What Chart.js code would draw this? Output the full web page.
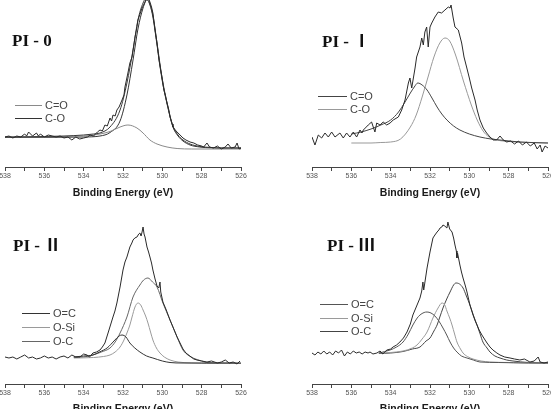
<!DOCTYPE html>
<html>
<head>
<meta charset="utf-8">
<script src="https://cdn.jsdelivr.net/npm/chart.js@4.4.1/dist/chart.umd.min.js"></script>
<style>
  html, body { margin: 0; padding: 0; background: #fff; overflow: hidden; width: 551px; height: 409px; }
  canvas { position: absolute; }
</style>
</head>
<body>
<canvas id="c0" width="275" height="205" style="left:0;top:0"></canvas>
<canvas id="c1" width="276" height="205" style="left:275px;top:0"></canvas>
<canvas id="c2" width="275" height="215" style="left:0;top:205px"></canvas>
<canvas id="c3" width="276" height="215" style="left:275px;top:205px"></canvas>
<script>
// binding energy axis
var evMin = 526, evMax = 538;
var axisTitle = 'Binding Energy (eV)';
var panelTitles = ['PI - 0', 'PI - \u2160', 'PI - \u2161', 'PI - \u2162'];

// ---- PI-0 : [eV, counts] ----
var pi0Exp = [[538.0,30],[537.8,31],[537.6,29],[537.4,31],[537.2,30],[537.0,33],[536.9,31],[536.8,35],[536.6,31],[536.4,34],[536.3,31],[536.2,33],[536.0,30],[535.8,32],[535.6,31],[535.4,30],[535.2,31],[535.0,29],[534.8,30],[534.6,27],[534.4,30],[534.2,28],[534.0,29],[533.8,30],[533.68,32],[533.5,31],[533.3,35],[533.17,37],[533.05,36],[532.92,42],[532.8,41],[532.66,49],[532.58,46],[532.51,52],[532.4,51],[532.31,57],[532.2,60],[532.05,67],[531.95,72],[531.9,80],[531.75,94],[531.65,104],[531.54,110],[531.45,122],[531.39,130],[531.3,139],[531.24,147],[531.1,155],[531.03,159],[530.88,165],[530.78,172],[530.63,165],[530.55,160],[530.48,154],[530.37,137],[530.27,124],[530.17,107],[530.1,99],[530.02,90],[529.92,77],[529.85,72],[529.76,64],[529.68,58],[529.61,50],[529.5,43],[529.46,40],[529.3,36],[529.2,34],[529.05,31],[528.95,29],[528.8,27],[528.59,25],[528.4,24],[528.2,22],[528.0,21],[527.9,20],[527.73,24],[527.6,20],[527.4,19],[527.2,21],[527.0,18],[526.8,20],[526.66,23],[526.5,19],[526.3,20],[526.2,24],[526.1,18],[526.0,19]];
var pi0Env = [[538,30],[536,30.5],[535,31],[534,32],[533.5,33],[533.17,34],[532.66,40],[532.15,57],[531.8,84],[531.49,117],[531.24,147],[530.98,164],[530.78,170],[530.63,163],[530.48,152],[530.27,124],[530.02,90],[529.76,64],[529.46,41],[529.2,32],[528.95,27],[528.59,23],[528.09,20.5],[527.5,19.5],[527,19],[526,19]];
var pi0CeqO = [[538,30],[536,30],[535,30.5],[534,31],[533.68,31.5],[533.17,33],[532.66,35.5],[532.15,40],[531.75,42],[531.29,39],[530.98,34],[530.63,27],[530.27,23],[529.76,20],[529.25,18.5],[528.5,18],[527,18],[526,18]];
var pi0CO = [[538,29.5],[536,29.5],[535,29.8],[534,30],[533.17,31],[532.66,34.5],[532.15,46],[531.8,72],[531.49,107],[531.24,138],[530.98,159],[530.78,167],[530.63,162],[530.48,150],[530.27,122],[530.02,88],[529.76,63],[529.46,40],[529.2,31],[528.95,26],[528.59,22],[528.09,20],[527,19],[526,19]];

// ---- PI-I ----
var pi1Exp = [[538.0,30],[537.85,22],[537.68,32],[537.51,29],[537.34,34],[537.17,30],[537.0,35],[536.83,30],[536.58,34],[536.41,29],[536.24,34],[536.07,30],[535.9,35],[535.73,30],[535.56,37],[535.46,34],[535.39,37],[535.14,42],[534.97,45],[534.8,35],[534.71,44],[534.54,42],[534.38,45],[534.2,42],[534.03,44],[533.87,47],[533.61,50],[533.44,57],[533.27,67],[533.1,84],[533.02,89],[532.93,79],[532.76,99],[532.68,110],[532.51,120],[532.42,129],[532.34,122],[532.26,135],[532.17,140],[532.09,120],[532.0,140],[531.91,144],[531.75,150],[531.58,155],[531.41,154],[531.24,157],[531.07,160],[530.98,159],[530.93,162],[530.82,149],[530.73,140],[530.56,137],[530.39,124],[530.27,110],[530.14,100],[530.0,89],[529.88,79],[529.71,67],[529.6,57],[529.46,47],[529.29,39],[529.12,34],[528.95,30],[528.78,27],[528.61,27],[528.44,31],[528.27,27],[528.1,25],[527.9,26],[527.7,23],[527.5,26],[527.3,22],[527.1,25],[526.9,21],[526.7,24],[526.55,18],[526.4,22],[526.3,15],[526.15,21],[526.0,19]];
var pi1CeqO = [[536.0,33],[535.5,35],[535.0,38],[534.5,42],[534.0,47],[533.6,55],[533.3,64],[533.0,74],[532.8,80],[532.62,84],[532.4,82],[532.15,77],[531.9,69],[531.64,60],[531.4,53],[531.14,47],[530.8,41],[530.48,37],[530.0,33],[529.46,30],[528.9,28],[528.44,27],[527.43,25],[526.0,24]];
var pi1CO = [[536.0,24],[535.0,24],[534.5,24.5],[534.0,25],[533.5,28],[533.0,40],[532.7,52],[532.4,70],[532.1,90],[531.8,110],[531.5,124],[531.24,129],[531.0,126],[530.7,112],[530.3,86],[529.9,62],[529.6,47],[529.3,36],[529.0,30],[528.6,27],[528.0,25.5],[527.0,24.5],[526.0,24]];

// ---- PI-II ----
var pi2Exp = [[538.0,27],[537.8,26],[537.6,27],[537.4,25],[537.2,27],[537.0,29],[536.8,26],[536.6,27],[536.4,25],[536.2,26],[536.0,28],[535.8,26],[535.6,27],[535.4,25],[535.2,27],[535.0,28],[534.8,26],[534.6,29],[534.4,27],[534.19,27],[534.0,30],[533.83,29],[533.7,27],[533.53,31],[533.35,32],[533.17,34],[533.05,37],[532.92,41],[532.76,51],[532.65,58],[532.51,67],[532.41,73],[532.31,81],[532.15,97],[532.0,114],[531.9,122],[531.8,127],[531.65,137],[531.55,141],[531.49,144],[531.4,146],[531.29,147],[531.2,150],[531.14,151],[531.08,148],[531.03,152],[530.98,157],[530.93,150],[530.88,147],[530.78,137],[530.7,132],[530.63,127],[530.55,121],[530.48,114],[530.37,105],[530.27,98],[530.18,96],[530.12,102],[530.08,92],[529.97,82],[529.8,74],[529.61,64],[529.46,57],[529.25,47],[529.1,41],[528.95,35],[528.8,31],[528.6,28],[528.4,25],[528.24,24],[528.0,23],[527.73,22],[527.5,23],[527.2,21],[527.0,22],[526.8,24],[526.6,21],[526.4,22],[526.2,20],[526.05,23]];
var pi2OeqC = [[534.5,27],[534.0,28],[533.53,29],[533.2,32],[532.81,36],[532.41,44],[532.2,48],[532.05,49],[531.85,47],[531.65,41],[531.4,36],[531.14,32],[530.8,28],[530.48,26],[530.0,23],[529.61,21.5],[529.0,21],[528.0,21],[526.0,21]];
var pi2OSi = [[534.5,26],[533.5,26.5],[533.0,27.5],[532.66,29],[532.4,32],[532.15,37],[531.95,44],[531.8,51],[531.65,59],[531.54,67],[531.39,77],[531.24,81],[531.1,79],[530.98,74],[530.85,68],[530.73,61],[530.6,52],[530.48,44],[530.3,36],[530.12,31],[529.9,27],[529.61,24],[529.2,22],[528.5,21],[527,20.5],[526,20.5]];
var pi2OC = [[534.5,26.5],[534.0,27],[533.53,29],[533.1,32],[532.66,36],[532.4,42],[532.15,51],[531.8,67],[531.49,87],[531.14,99],[530.95,104],[530.73,106],[530.5,102],[530.27,97],[529.97,81],[529.61,64],[529.25,47],[528.95,34],[528.7,29],[528.44,26],[528.0,23],[527.73,21.5],[527.0,21],[526.0,20.5]];

// ---- PI-III ----
var pi3Exp = [[538.0,31],[537.85,29],[537.7,32],[537.55,30],[537.4,33],[537.25,30],[537.1,32],[536.95,29],[536.8,33],[536.65,31],[536.5,34],[536.35,28],[536.2,32],[536.05,30],[535.9,33],[535.75,31],[535.6,32],[535.45,30],[535.3,32],[535.15,31],[535.05,32],[534.9,30],[534.7,31],[534.54,33],[534.4,30],[534.19,34],[534.0,35],[533.88,37],[533.7,39],[533.53,42],[533.35,46],[533.17,52],[533.0,60],[532.87,69],[532.7,77],[532.51,86],[532.42,93],[532.36,102],[532.32,94],[532.28,99],[532.15,116],[532.0,132],[531.85,146],[531.75,149],[531.64,152],[531.55,154],[531.49,156],[531.4,157],[531.34,159],[531.25,158],[531.14,156],[531.09,162],[531.0,155],[530.88,152],[530.8,146],[530.73,139],[530.66,133],[530.63,126],[530.6,131],[530.48,119],[530.4,112],[530.32,106],[530.2,98],[530.12,92],[529.97,79],[529.81,69],[529.7,63],[529.61,59],[529.5,54],[529.36,49],[529.2,44],[529.1,41],[528.95,37],[528.8,34],[528.6,31],[528.44,29],[528.2,27],[527.93,26],[527.7,25],[527.43,24],[527.2,25],[526.92,22],[526.7,23],[526.5,27],[526.4,22],[526.2,21],[526.0,22]];
var pi3OeqC = [[534.6,31],[534.03,34],[533.7,37],[533.37,42],[533.1,50],[532.87,59],[532.65,66],[532.51,69],[532.3,71.5],[532.15,72],[531.95,71],[531.75,68],[531.55,63],[531.34,56],[531.15,49],[530.98,42],[530.8,36],[530.63,32],[530.4,28],[530.12,26],[529.8,24],[529.46,22],[528.5,21.5],[527,21],[526,21]];
var pi3OSi = [[534.6,31],[534.0,31.5],[533.37,33],[532.9,36],[532.66,39],[532.4,45],[532.15,52],[531.85,66],[531.59,76],[531.39,81],[531.25,79],[531.14,73],[531.0,66],[530.88,59],[530.75,50],[530.63,42],[530.45,35],[530.32,31],[530.1,27.5],[529.81,25],[529.4,23],[528.95,22],[528,21.5],[527,21],[526,21]];
var pi3OC = [[534.6,30.5],[534.0,31],[533.37,32.5],[532.9,35],[532.51,37],[532.2,43],[532.0,46],[531.8,53],[531.64,59],[531.5,67],[531.34,76],[531.15,85],[530.98,92],[530.8,99],[530.68,101],[530.5,100],[530.32,96],[530.15,88],[529.97,79],[529.8,69],[529.61,59],[529.45,50],[529.31,42],[529.1,36],[528.95,32],[528.7,28],[528.44,26],[528.1,24],[527.78,23],[527,21.5],[526,21]];

function pts(arr) {
  return arr.map(function(p) { return {x: p[0], y: p[1]}; });
}

// raw spectrum: jagged line
function rawSet(arr) {
  return { label: 'exp', data: pts(arr), borderColor: '#2a2a2a', borderWidth: 1, pointRadius: 0, tension: 0 };
}
// fitted components: smooth line
function fitSet(label, arr, color, inLegend) {
  return { label: label, data: pts(arr), borderColor: color, borderWidth: 1, pointRadius: 0,
           cubicInterpolationMode: 'monotone', inLegend: inLegend };
}

// panel title + legend drawn inside the plot
var insetPlugin = {
  id: 'inset',
  afterDatasetsDraw: function(chart) {
    var o = chart.options.plugins.inset;
    var ctx = chart.ctx;
    ctx.save();
    ctx.fillStyle = '#111';
    ctx.font = 'bold ' + o.titleSize + 'px "Liberation Serif", "Times New Roman", "Noto Sans CJK SC", serif';
    ctx.textBaseline = 'middle';
    ctx.fillText(o.title, o.titleX, o.titleY);

    var row = 0;
    ctx.font = '11px "Liberation Sans", Arial, sans-serif';
    chart.data.datasets.forEach(function(ds) {
      if (!ds.inLegend) return;
      var y = Math.round(o.y + row * o.rowH) + 0.5;
      ctx.strokeStyle = ds.borderColor;
      ctx.lineWidth = 1;
      ctx.beginPath();
      ctx.moveTo(o.x, y);
      ctx.lineTo(o.x + o.len, y);
      ctx.stroke();
      ctx.fillStyle = '#444';
      ctx.fillText(ds.label, o.x + o.len + 3, y);
      row++;
    });
    ctx.restore();
  }
};

function makePanel(id, datasets, pad, yMax, scaleH, inset) {
  return new Chart(document.getElementById(id), {
    type: 'line',
    data: { datasets: datasets },
    plugins: [insetPlugin],
    options: {
      responsive: false,
      devicePixelRatio: 1,
      animation: false,
      events: [],
      layout: { padding: pad },
      plugins: { legend: { display: false }, tooltip: { enabled: false }, inset: inset },
      scales: {
        x: {
          type: 'linear', reverse: true, min: evMin, max: evMax,
          grid: { drawOnChartArea: false, drawTicks: true, tickLength: 4, color: '#444' },
          border: { display: true, color: '#444', width: 1 },
          ticks: {
            stepSize: 1, autoSkip: false, maxRotation: 0, padding: 1, color: '#555',
            font: { size: 7, family: '"Liberation Sans", Arial, sans-serif' },
            callback: function(v) { return v % 2 === 0 ? String(v) : ''; }
          },
          title: { display: true, text: axisTitle, color: '#1a1a1a', padding: 0,
                   font: { size: 10.5, weight: 'bold', family: '"Liberation Sans", Arial, sans-serif' } },
          afterFit: function(s) { s.height = scaleH; s.paddingLeft = 0; s.paddingRight = 0; }
        },
        y: { display: false, min: 0, max: yMax }
      }
    }
  });
}

makePanel('c0', [
  rawSet(pi0Exp),
  fitSet('env', pi0Env, '#3a3a3a', false),
  fitSet('C=O', pi0CeqO, '#8a8a8a', true),
  fitSet('C-O', pi0CO, '#333', true)
], {left: 5, right: 34, top: 0, bottom: 6}, 167, 32,
  {title: panelTitles[0], titleSize: 17, titleX: 12, titleY: 42, x: 15, y: 105, rowH: 12.5, len: 27});

makePanel('c1', [
  rawSet(pi1Exp),
  fitSet('C=O', pi1CeqO, '#444', true),
  fitSet('C-O', pi1CO, '#999', true)
], {left: 37, right: 3, top: 0, bottom: 6}, 167, 32,
  {title: panelTitles[1], titleSize: 17, titleX: 47, titleY: 43, x: 43, y: 96, rowH: 13, len: 29});

makePanel('c2', [
  rawSet(pi2Exp),
  fitSet('O=C', pi2OeqC, '#333', true),
  fitSet('O-Si', pi2OSi, '#9a9a9a', true),
  fitSet('O-C', pi2OC, '#666', true)
], {left: 5, right: 34, top: 0, bottom: 5}, 179, 31,
  {title: panelTitles[2], titleSize: 17, titleX: 13, titleY: 42, x: 22, y: 108, rowH: 14, len: 28});

makePanel('c3', [
  rawSet(pi3Exp),
  fitSet('O=C', pi3OeqC, '#555', true),
  fitSet('O-Si', pi3OSi, '#9a9a9a', true),
  fitSet('O-C', pi3OC, '#444', true)
], {left: 37, right: 3, top: 0, bottom: 5}, 179, 31,
  {title: panelTitles[3], titleSize: 17, titleX: 52, titleY: 42, x: 45, y: 99, rowH: 13.5, len: 28});
</script>
</body>
</html>
